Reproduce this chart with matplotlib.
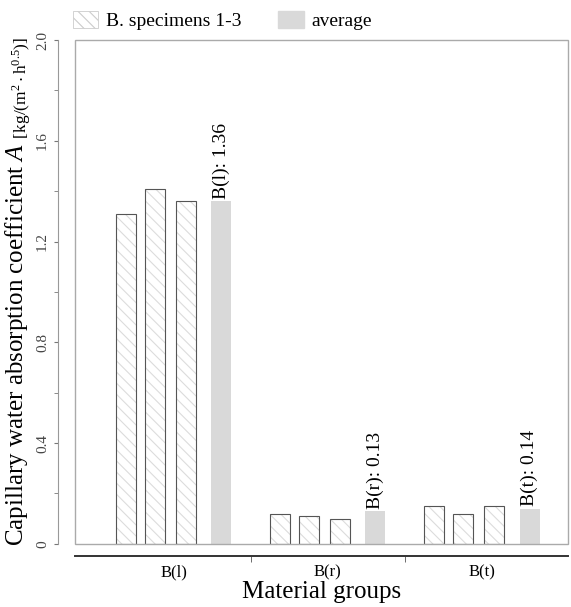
import matplotlib.pyplot as plt
from matplotlib.patches import Rectangle, Patch
from matplotlib.ticker import MultipleLocator

plt.rcParams['font.family'] = ['Liberation Serif', 'DejaVu Serif']
plt.rcParams['mathtext.fontset'] = 'custom'
plt.rcParams['mathtext.rm'] = 'Liberation Serif'
plt.rcParams['mathtext.it'] = 'Liberation Serif:italic'
plt.rcParams['hatch.color'] = '#d8d8d8'
plt.rcParams['hatch.linewidth'] = 0.8

groups = ['B(l)', 'B(r)', 'B(t)']
spec1 = [1.31, 0.12, 0.15]
spec2 = [1.41, 0.11, 0.12]
spec3 = [1.36, 0.10, 0.15]
average = [1.36, 0.13, 0.14]
avg_labels = ['B(l): 1.36', 'B(r): 0.13', 'B(t): 0.14']

fig = plt.figure(figsize=(5.71, 6.07), dpi=100)
ax = fig.add_axes([0.131, 0.104, 0.864, 0.830])

w = 0.13
offsets = [-0.31, -0.12, 0.08]
x = range(len(groups))
for off, vals in zip(offsets, [spec1, spec2, spec3]):
    xs = [i + off for i in x]
    ax.bar(xs, vals, w, color='white', hatch='\\\\\\', edgecolor='#dcdcdc', linewidth=0)
    ax.bar(xs, vals, w, fill=False, edgecolor='#555555', linewidth=0.8)

xa = [i + 0.31 for i in x]
ax.bar(xa, average, w, color='#d9d9d9', linewidth=0)
for xi, v, t in zip(xa, average, avg_labels):
    ax.text(xi, v + 0.01, t, rotation=90, ha='center', va='bottom', fontsize=14)

ax.set_xlim(-0.64, 2.56)
ax.set_ylim(0, 2.0)

# light frame around plot area
ax.add_patch(Rectangle((0, 0), 1, 1, transform=ax.transAxes, fill=False,
                       edgecolor='#aaaaaa', linewidth=1.0, clip_on=False))
ax.spines['top'].set_visible(False)
ax.spines['right'].set_visible(False)
ax.spines['left'].set_position(('outward', 12))
ax.spines['bottom'].set_position(('outward', 9))
ax.spines['left'].set_color('#999999')
ax.spines['bottom'].set_color('#333333')
ax.spines['bottom'].set_linewidth(1.4)

ax.set_yticks([0, 0.4, 0.8, 1.2, 1.6, 2.0])
ax.set_yticklabels(['0', '0.4', '0.8', '1.2', '1.6', '2.0'], rotation=90, va='center')
ax.yaxis.set_minor_locator(MultipleLocator(0.2))
ax.set_xticks(list(x))
ax.set_xticklabels(groups)
ax.set_xticks([0.5, 1.5], minor=True)
ax.tick_params(axis='x', which='major', length=0, labelsize=12, pad=6)
ax.tick_params(axis='x', which='minor', length=4, color='#555555')
ax.tick_params(axis='y', which='both', length=3, color='#777777', labelsize=11, labelcolor='#444444')

ax.set_xlabel('Material groups', fontsize=18, labelpad=0)
ax.set_ylabel(r'Capillary water absorption coefficient $\it{A}$ '
              r'$\mathregular{_{[kg/(m^{2}\cdot h^{0.5})]}}$', fontsize=18, labelpad=2)

handles = [Patch(facecolor='white', hatch='\\\\\\', edgecolor='#cccccc', linewidth=0.6),
           Patch(facecolor='#d9d9d9', edgecolor='#d9d9d9')]
fig.legend(handles, ['B. specimens 1-3', 'average'], loc='upper left',
           bbox_to_anchor=(0.097, 1.01), ncol=2, frameon=False, fontsize=14,
           handlelength=1.3, handleheight=0.9, columnspacing=1.9, handletextpad=0.4)

fig.savefig('out.png', dpi=100)
